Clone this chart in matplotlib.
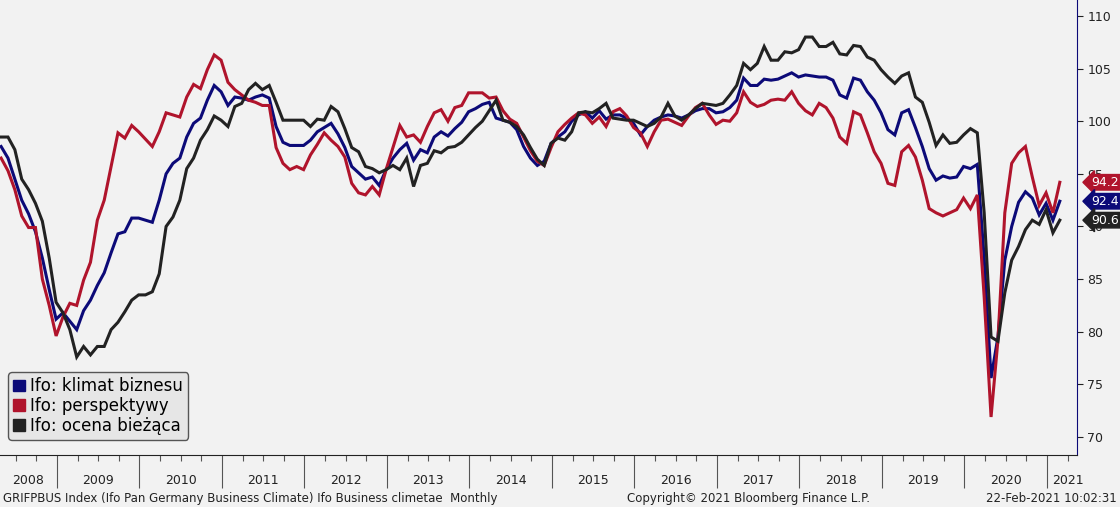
import numpy as np
import matplotlib
matplotlib.use("Agg")
import matplotlib.pyplot as plt
from matplotlib.patches import Patch

# monthly values, Apr 2008 .. Feb 2021
climate = [
    97.6, 96.5, 94.5, 92.5, 91.2, 89.5, 87.0, 84.0, 81.2,
    81.8, 81.0, 80.2, 82.0, 83.0, 84.4, 85.6, 87.5, 89.3, 89.5, 90.8, 90.8,
    90.6, 90.4, 92.5, 95.0, 96.0, 96.5, 98.5, 99.8, 100.3, 102.0, 103.4, 102.8,
    101.5, 102.3, 102.2, 102.0, 102.3, 102.5, 102.2, 99.5, 98.0, 97.7, 97.7, 97.7,
    98.2, 99.0, 99.4, 99.8, 98.8, 97.5, 95.7, 95.1, 94.5, 94.7, 93.9, 95.4,
    96.5, 97.3, 97.9, 96.3, 97.3, 97.0, 98.5, 99.0, 98.6, 99.3, 99.9, 100.9,
    101.2, 101.6, 101.8, 100.3, 100.1, 99.9, 99.2, 97.6, 96.5, 95.8, 96.2, 97.9,
    98.5, 99.0, 100.0, 100.6, 100.9, 100.3, 101.0, 100.2, 100.6, 100.6, 100.3, 99.8,
    98.7, 99.5, 100.1, 100.4, 100.6, 100.5, 100.3, 100.6, 101.0, 101.2, 101.2, 100.8,
    100.9, 101.3, 102.0, 104.1, 103.4, 103.4, 104.0, 103.9, 104.0, 104.3, 104.6, 104.2,
    104.4, 104.3, 104.2, 104.2, 103.9, 102.5, 102.2, 104.1, 103.9, 102.8, 102.0, 100.8,
    99.2, 98.7, 100.8, 101.1, 99.4, 97.6, 95.5, 94.4, 94.8, 94.6, 94.7, 95.7,
    95.5, 95.9, 87.0, 75.6, 79.5, 86.8, 90.0, 92.3, 93.3, 92.7, 91.1, 92.2,
    90.6, 92.4,
]
expectations = [
    96.5, 95.3, 93.5, 91.0, 89.9, 89.9, 85.0, 82.5, 79.6,
    81.4, 82.7, 82.5, 84.9, 86.6, 90.6, 92.5, 95.7, 98.9, 98.4, 99.6, 99.0,
    98.3, 97.6, 99.0, 100.8, 100.6, 100.4, 102.3, 103.5, 103.1, 104.9, 106.3, 105.8,
    103.7, 103.0, 102.5, 102.0, 101.8, 101.5, 101.5, 97.5, 96.0, 95.4, 95.7, 95.4,
    96.8, 97.8, 98.9, 98.2, 97.6, 96.6, 94.1, 93.2, 93.0, 93.8, 93.0, 95.4,
    97.5, 99.6, 98.5, 98.7, 98.0, 99.5, 100.8, 101.1, 100.0, 101.3, 101.5, 102.7,
    102.7, 102.7, 102.2, 102.3, 101.0, 100.2, 99.8, 98.5, 97.2, 96.2, 95.8, 97.5,
    99.0, 99.7, 100.3, 100.8, 100.6, 99.8, 100.4, 99.5, 100.9, 101.2, 100.5, 99.4,
    98.9, 97.6, 99.0, 100.1, 100.2, 99.9, 99.6, 100.5, 101.3, 101.7, 100.6, 99.7,
    100.1, 100.0, 100.8, 102.8, 101.8, 101.4, 101.6, 102.0, 102.1, 102.0, 102.8, 101.7,
    101.0, 100.6, 101.7, 101.3, 100.3, 98.5, 97.9, 100.9, 100.6, 98.9, 97.1, 96.0,
    94.1, 93.9, 97.1, 97.7, 96.6, 94.4, 91.7, 91.3, 91.0, 91.3, 91.6, 92.7,
    91.7, 93.0, 83.3, 71.9, 79.2, 91.3, 96.0, 97.0, 97.6, 94.7, 92.0, 93.2,
    91.3, 94.2,
]
current = [
    98.5, 98.5, 97.3, 94.5, 93.5, 92.2, 90.5, 87.0, 82.8,
    81.8, 80.2, 77.6, 78.6, 77.8, 78.6, 78.6, 80.2, 80.9, 81.9, 83.0, 83.5,
    83.5, 83.8, 85.5, 90.0, 90.9, 92.5, 95.5, 96.5, 98.2, 99.2, 100.5, 100.1,
    99.5, 101.4, 101.7, 103.0, 103.6, 103.0, 103.4, 101.8, 100.1, 100.1, 100.1, 100.1,
    99.5, 100.2, 100.1, 101.4, 100.9, 99.3, 97.5, 97.1, 95.7, 95.5, 95.1, 95.4,
    95.8, 95.4, 96.5, 93.8, 95.8, 96.0, 97.2, 97.0, 97.5, 97.6, 98.0, 98.7,
    99.4, 100.0, 101.0, 102.0, 100.1, 99.9, 99.5, 98.7, 97.5, 96.4, 95.8, 97.9,
    98.4, 98.2, 99.0, 100.8, 100.9, 100.8, 101.2, 101.7, 100.3, 100.2, 100.1, 100.1,
    99.8, 99.5, 99.8, 100.4, 101.7, 100.5, 100.1, 100.6, 101.2, 101.7, 101.6, 101.5,
    101.7, 102.5, 103.4, 105.5, 104.9, 105.5, 107.1, 105.8, 105.8, 106.6, 106.5, 106.8,
    108.0, 108.0, 107.1, 107.1, 107.5, 106.4, 106.3, 107.2, 107.1, 106.1, 105.8, 104.9,
    104.2, 103.6, 104.3, 104.6, 102.3, 101.8, 99.9, 97.7, 98.7, 97.9, 98.0, 98.7,
    99.3, 98.9, 91.3, 79.5, 79.1, 83.7, 86.8, 88.1, 89.7, 90.6, 90.2, 91.6,
    89.4, 90.6,
]
years = [str(y) for y in range(2008, 2022)]
yticks = [70, 75, 80, 85, 90, 95, 100, 105, 110]
labels = ["Ifo: klimat biznesu", "Ifo: perspektywy", "Ifo: ocena bieżąca"]
colors = ["#0c0a78", "#b0142c", "#222222"]

BG = "#f2f2f2"
fig = plt.figure(figsize=(11.2, 5.07), dpi=100, facecolor=BG)
ax = fig.add_axes([0.0, 0.1026, 0.9616, 0.8974], facecolor=BG)

x = np.arange(len(climate))
for ser, c in zip([climate, expectations, current], colors):
    ax.plot(x, ser, color=c, lw=2.2, solid_joinstyle="miter")

ax.set_xlim(-0.16, 156.5)
ax.set_ylim(68.29, 111.52)

for s in ["left", "top"]:
    ax.spines[s].set_visible(False)
ax.spines["right"].set_color("#0c0a78")
ax.spines["bottom"].set_color("#222222")

ax.yaxis.tick_right()
ax.set_yticks(yticks)
ax.tick_params(axis="y", direction="out", length=4, labelsize=9, colors="#222222")

# year separators and quarterly ticks
seps = 8.13 + 12 * np.arange(13)
ax.set_xticks(seps)
ax.set_xticks([s + q for s in np.concatenate([[seps[0] - 12], seps]) for q in (3, 6, 9)
               if -0.16 < s + q < 156.5], minor=True)
ax.tick_params(axis="x", which="major", direction="out", length=24, width=0.8,
               color="#555555", labelbottom=False)
ax.tick_params(axis="x", which="minor", direction="out", length=4, width=0.8, color="#555555")

year_pos = [3.9] + list(seps[:-1] + 6) + [155.2]
for yp, yl in zip(year_pos, years):
    ax.text(yp, -0.055, yl, transform=ax.get_xaxis_transform(), ha="center", va="center",
            fontsize=9, color="#222222", clip_on=False)

# value tags on right axis
for ser, c in zip([expectations, climate, current], [colors[1], colors[0], colors[2]]):
    v = ser[-1]
    ax.annotate(f"{v:.1f}", xy=(1.0, v), xycoords=("axes fraction", "data"),
                xytext=(1.013, v), textcoords=("axes fraction", "data"),
                ha="left", va="center", fontsize=9, color="white", zorder=10,
                annotation_clip=False,
                bbox=dict(boxstyle="larrow,pad=0.1", fc=c, ec=c))

handles = [Patch(color=c) for c in colors]
leg = ax.legend(handles, labels, loc="lower left", bbox_to_anchor=(0.0, 0.015),
                fontsize=12, handlelength=0.7, handleheight=0.7, handletextpad=0.3,
                labelspacing=0.1, borderpad=0.3, fancybox=True, framealpha=1,
                facecolor="#e6e6e6", edgecolor="#555555")

fig.text(0.003, 0.017, "GRIFPBUS Index (Ifo Pan Germany Business Climate) Ifo Business climetae  Monthly",
         fontsize=8.5, color="#222222", va="center")
fig.text(0.56, 0.017, "Copyright\u00a9 2021 Bloomberg Finance L.P.", fontsize=8.5,
         color="#222222", va="center")
fig.text(0.997, 0.017, "22-Feb-2021 10:02:31", fontsize=8.5, color="#222222",
         va="center", ha="right")

fig.savefig("out.png", dpi=100, facecolor=BG)
